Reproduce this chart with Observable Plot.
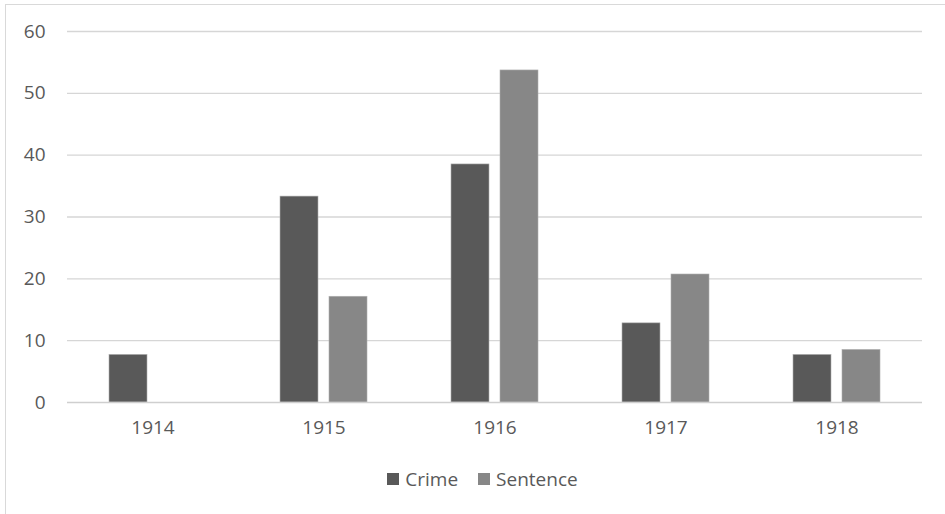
<!DOCTYPE html>
<html>
<head>
<meta charset="utf-8">
<script src="https://cdn.jsdelivr.net/npm/d3@7"></script>
<script src="https://cdn.jsdelivr.net/npm/@observablehq/plot@0.6"></script>
<style>
  html, body { margin: 0; padding: 0; background: #fff; width: 945px; height: 514px; overflow: hidden; }
  #frame { position: absolute; left: 5px; top: 4px; width: 960px; height: 540px; border-left: 1.5px solid #d9d9d9; border-top: 1.5px solid #d9d9d9; }
  #chart { position: absolute; left: 0; top: 0; }
  #legend { position: absolute; left: 10px; top: 466px; width: 945px; display: flex; justify-content: center; gap: 20px; font-family: "Open Sans", sans-serif; font-size: 19px; color: #595959; }
  #legend span.item { display: flex; align-items: center; gap: 6px; }
  #legend span.sw { display: inline-block; width: 12px; height: 12px; }
</style>
</head>
<body>
<div id="frame"></div>
<div id="chart"></div>
<div id="legend"></div>
<script>
const years = ["1914", "1915", "1916", "1917", "1918"];
const series = ["Crime", "Sentence"];
const crime = [7.7, 33.3, 38.5, 12.8, 7.7];
const sentence = [0, 17.1, 53.7, 20.7, 8.5];
const colors = ["#595959", "#878787"];
const yTicks = [0, 10, 20, 30, 40, 50, 60];

const data = [];
years.forEach((yr, i) => {
  data.push({year: yr, series: "Crime", value: crime[i]});
  data.push({year: yr, series: "Sentence", value: sentence[i]});
});

const chart = Plot.plot({
  width: 945,
  height: 455,
  marginLeft: 66,
  marginRight: 22,
  marginTop: 31,
  marginBottom: 53,
  style: {fontFamily: "'Open Sans', sans-serif", fontSize: "19px", color: "#595959", background: "transparent"},
  fx: {domain: years, padding: 0, label: null, tickSize: 0, tickPadding: 18},
  x: {domain: series, paddingInner: 0.217, paddingOuter: 0.847, axis: null},
  y: {domain: [0, 60], ticks: yTicks, label: null, tickSize: 0, tickPadding: 22},
  color: {domain: series, range: colors},
  marks: [
    Plot.ruleY(yTicks.filter(d => d > 0), {stroke: "#d6d6d6", strokeWidth: 1.4}),
    Plot.barY(data, {fx: "year", x: "series", y: "value", fill: "series", stroke: "#b0b0b0", strokeWidth: 0.6}),
    Plot.ruleY([0], {stroke: "#cfcfcf", strokeWidth: 1.6})
  ]
});
document.getElementById("chart").appendChild(chart);

const legend = document.getElementById("legend");
series.forEach((s, i) => {
  const item = document.createElement("span");
  item.className = "item";
  const sw = document.createElement("span");
  sw.className = "sw";
  sw.style.background = colors[i];
  item.appendChild(sw);
  item.appendChild(document.createTextNode(s));
  legend.appendChild(item);
});
</script>
</body>
</html>
